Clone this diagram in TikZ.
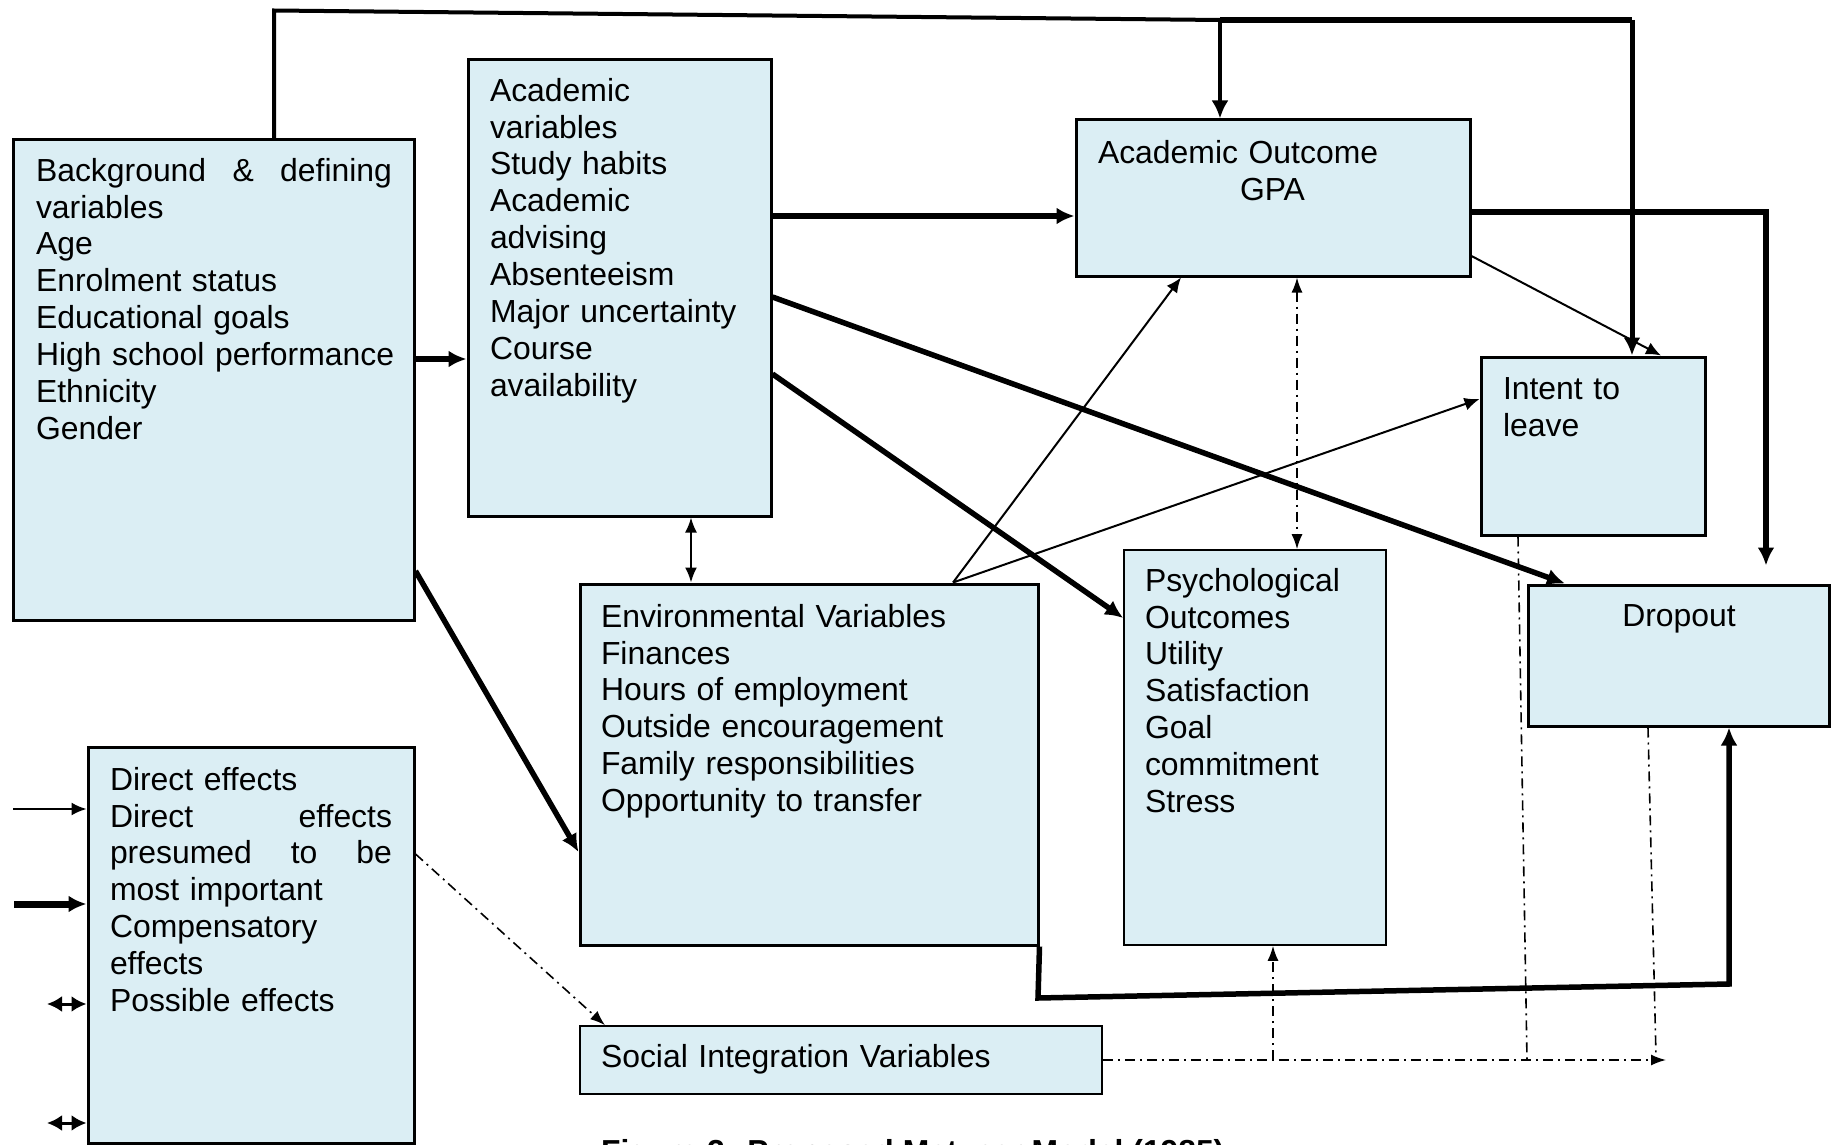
\documentclass[tikz,border=0pt]{standalone}
\usepackage{fontspec}
\setmainfont{Liberation Sans}
\usetikzlibrary{arrows.meta,calc}
\definecolor{boxfill}{RGB}{219,238,244}
\begin{document}
\begin{tikzpicture}[x=1pt,y=-1pt,
  box/.style={draw=black, line width=3pt, fill=boxfill, inner sep=0pt},
  thinbox/.style={box, line width=1.6pt},
  txt/.style={inner sep=0pt, outer sep=0pt, anchor=north west, align=left, font=\fontsize{31.9}{36.9}\selectfont},
  thickarrow/.style={line width=5.5pt, -{Latex[length=18pt,width=17pt]}},
  thickline/.style={line width=4pt},
  thinarrow/.style={line width=2pt, -{Latex[length=15pt,width=13pt]}},
  thindouble/.style={line width=2pt, {Latex[length=15pt,width=12pt]}-{Latex[length=15pt,width=12pt]}},
  legdouble/.style={line width=3pt, {Latex[length=15pt,width=16pt]}-{Latex[length=15pt,width=16pt]}},
  dd/.style={line width=1.6pt, dash pattern=on 10pt off 5pt on 2pt off 5pt},
  ddarrow/.style={dd, -{Latex[length=15pt,width=11pt]}},
  dddouble/.style={dd, {Latex[length=15pt,width=11pt]}-{Latex[length=15pt,width=11pt]}}
]
\useasboundingbox (0,0) rectangle (1834,1145);

% boxes
\node[box, minimum width=401pt, minimum height=480pt] (bg) at (213.5,380) {};
\node[box, minimum width=303pt, minimum height=456pt] (av) at (619.5,288) {};
\node[box, minimum width=394pt, minimum height=156pt] (ao) at (1273,198) {};
\node[box, minimum width=224pt, minimum height=178pt] (il) at (1593,446) {};
\node[box, minimum width=301pt, minimum height=141pt] (do) at (1678.5,655.5) {};
\node[thinbox, minimum width=262pt, minimum height=395pt] (ps) at (1255,747.5) {};
\node[box, minimum width=458pt, minimum height=361pt] (en) at (809,764.5) {};
\node[thinbox, minimum width=522pt, minimum height=68pt] (si) at (841,1060) {};
\node[box, minimum width=326pt, minimum height=396pt] (lg) at (251,945) {};

% texts
\node[txt, text width=356pt] (bgt) at (36,158) {Background\hfill\&\hfill defining\\variables\\Age\\Enrolment status\\Educational goals\\\mbox{High school performance}\\Ethnicity\\Gender};
\node[txt, text width=270pt] (avt) at (490,78) {Academic\\variables\\Study habits\\Academic\\advising\\Absenteeism\\Major uncertainty\\Course\\availability};
\node[txt, text width=360pt] (aot) at (1098,140) {Academic Outcome\\\hspace*{142pt}GPA};
\node[txt, text width=200pt] (ilt) at (1503,378) {Intent to\\leave};
\node[txt, anchor=north, align=center] (dot) at (1679,605) {Dropout};
\node[txt, text width=235pt] (pst) at (1145,568) {Psychological\\Outcomes\\Utility\\Satisfaction\\Goal\\commitment\\Stress};
\node[txt, text width=420pt] (ent) at (601,604) {Environmental Variables\\Finances\\Hours of employment\\Outside encouragement\\Family responsibilities\\Opportunity to transfer};
\node[txt, text width=480pt] (sit) at (601,1044) {Social Integration Variables};
\node[txt, text width=282pt] (lgt) at (110,767) {Direct effects\\Direct\hfill effects\\presumed\hfill to\hfill be\\most important\\Compensatory\\effects\\Possible effects};
\node[inner sep=0pt, anchor=base west, font=\fontsize{31.8}{36.9}\selectfont\bfseries] (cap) at (601,1162) {Figure 2: Proposed Metzner Model (1985)};

% connectors
\coordinate (t1) at (274,10.5);
\coordinate (j1) at (1220,20);
\coordinate (j2) at (1632,20);
\draw[thickline] (bg.north -| t1) -- (t1) -- (j1);
\draw[thickarrow, line width=4.5pt] (j1) -- (ao.north -| j1);
\draw[line width=6.5pt] (j1) -- (j2);
\draw[thickarrow, line width=5pt] (j2) -- (il.north -| j2);

\draw[thickarrow] (bg.east |- 0,359) -- (av.west |- 0,359);
\draw[thickarrow] (av.east |- 0,216) -- (ao.west |- 0,216);
\coordinate (r1) at (1766,212);
\draw[thickarrow, shorten >=18pt] (ao.east |- r1) -- (r1) -- (do.north -| r1);
\draw[thinarrow] (ao.east |- 0,256) -- (il.north -| 1661,0);
\draw[thickarrow] (av.east |- 0,297) -- (do.north -| 1565,0);
\draw[thickarrow] (av.east |- 0,374) -- (ps.west |- 0,618);
\draw[thickarrow] (bg.east |- 0,571) -- (en.west |- 0,852);
\draw[thindouble] (av.south -| 691,0) -- (en.north -| 691,0);
\draw[thinarrow] (en.north -| 953,0) -- (ao.south -| 1181,0);
\draw[thinarrow] (en.north -| 953,0) -- (il.west |- 0,399);
\draw[dddouble] (ao.south -| 1297,0) -- (ps.north -| 1297,0);

\coordinate (b1) at (1038,998);
\coordinate (b2) at (1729,984);
\draw[thickarrow] (en.south east) -- (b1) -- (b2) -- (do.south -| b2);

% dash-dot connectors
\draw[ddarrow] (lg.east |- 0,854) -- (si.north -| 605,0);
\coordinate (s1) at (1273,1060);
\coordinate (s2) at (1527,1060);
\coordinate (s3) at (1666,1060);
\coordinate (s4) at (1656,1056);
\draw[ddarrow] (si.east) -- (s3);
\draw[ddarrow] (s1) -- (ps.south -| s1);
\draw[dd] (il.south -| 1518,0) -- (s2);
\draw[dd] (do.south -| 1648,0) -- (s4);

% legend samples
\coordinate (k1) at (13,809);
\coordinate (k2) at (14,904);
\coordinate (k3) at (47,1004);
\coordinate (k4) at (47,1123);
\draw[thinarrow] (k1) -- (lg.west |- k1);
\draw[thickarrow, line width=7pt] (k2) -- (lg.west |- k2);
\draw[legdouble] (k3) -- (lg.west |- k3);
\draw[legdouble] (k4) -- (lg.west |- k4);
\end{tikzpicture}
\end{document}
